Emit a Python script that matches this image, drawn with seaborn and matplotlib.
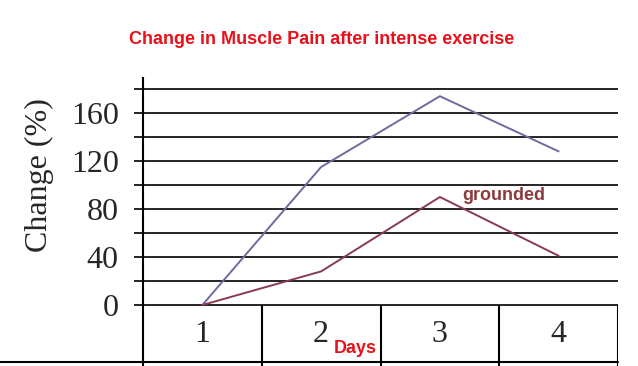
import pandas as pd
import seaborn as sns
import matplotlib.pyplot as plt
from matplotlib.lines import Line2D

# data
days = [1, 2, 3, 4]
day_labels = ["1", "2", "3", "4"]
control = [0, 115, 174, 128]
grounded = [0, 28, 90, 41]

df = pd.DataFrame({
    "day": days * 2,
    "change": control + grounded,
    "group": ["control"] * 4 + ["grounded"] * 4,
})

sns.set_style("white")
plt.rcParams["font.family"] = ["Liberation Serif", "DejaVu Serif"]

W, H = 638, 366
fig = plt.figure(figsize=(6.38, 3.66), dpi=100)

# axes spans pixel x 143..618, y 78..366 ; 0 sits at y=305, 1.2 px per unit
ymin = -(366 - 305) / 1.2
ymax = (305 - 78) / 1.2
ax = fig.add_axes([143 / W, 0, 475 / W, (366 - 78) / H])
ax.set_xlim(0.5, 4.5)
ax.set_ylim(ymin, ymax)

# horizontal grid every 20
for v in range(0, 181, 20):
    ax.axhline(v, color="black", lw=1.2, zorder=1)

sns.lineplot(data=df, x="day", y="change", hue="group",
             palette={"control": "#6f6a9e", "grounded": "#8a3a4f"},
             lw=1.4, legend=False, ax=ax, zorder=3)

ax.set_yticks([0, 40, 80, 120, 160])
ax.set_yticks(list(range(20, 181, 40)), minor=True)
ax.tick_params(axis="y", which="both", length=6.5, width=1.2, color="black",
               direction="out", labelsize=23, pad=11, left=True)
ax.set_xticks([])
ax.set_xlabel("")
ax.set_ylabel("")
for s in ["top", "right", "bottom"]:
    ax.spines[s].set_visible(False)
ax.spines["left"].set_linewidth(1.5)
ax.spines["left"].set_color("black")

# table below the axis
ax.vlines([1.5, 2.5, 3.5, 4.5], ymin, 0, color="black", lw=1.5)
fig.add_artist(Line2D([0, 618 / W], [1 - 362 / H, 1 - 362 / H],
                      color="black", lw=1.5))
for d, lab in zip(days, day_labels):
    ax.text(d, -25, lab, ha="center", va="center", fontsize=23)

ax.text(2.29, -36, "Days", ha="center", va="center", color="#e8101a",
        fontsize=13, fontweight="bold", family=["Liberation Sans"])
ax.text(3.19, 91, "grounded", ha="left", va="center", color="#8b3a3e",
        fontsize=13, fontweight="bold", family=["Liberation Sans"])

fig.text(39 / W, 1 - 175 / H, "Change (%)", rotation=90, ha="center",
         va="center", fontsize=23)
fig.text(322 / W, 1 - 40 / H, "Change in Muscle Pain after intense exercise",
         ha="center", va="center", color="#e8101a", fontsize=13,
         fontweight="bold", family=["Liberation Sans"])

fig.savefig("out.png", dpi=100)
